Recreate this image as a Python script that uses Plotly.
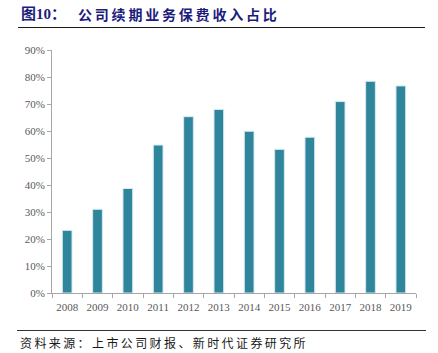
import plotly.graph_objects as go

years = ["2008", "2009", "2010", "2011", "2012", "2013", "2014", "2015", "2016", "2017", "2018", "2019"]
ratio = [0.232, 0.310, 0.387, 0.548, 0.653, 0.680, 0.599, 0.532, 0.577, 0.709, 0.784, 0.767]
y_ticks = [0, 0.1, 0.2, 0.3, 0.4, 0.5, 0.6, 0.7, 0.8, 0.9]
y_tick_labels = ["0%", "10%", "20%", "30%", "40%", "50%", "60%", "70%", "80%", "90%"]

title_prefix = "图10："
title_text = "公司续期业务保费收入占比"
source_text = "资料来源：上市公司财报、新时代证券研究所"

W, H = 438, 353
L, R, T, B = 52, 416, 50, 293  # plot area in pixels


def px(x):
    return (x - L) / (R - L)


def py(y):
    return (B - y) / (B - T)


fig = go.Figure()
fig.add_trace(go.Bar(
    x=years, y=ratio,
    marker=dict(color="#2F859C", line=dict(color="#D6EBF1", width=1)),
    width=0.32,
))

serif = "Liberation Serif, Times New Roman, serif"
cjk = "Noto Sans CJK SC, sans-serif"

fig.update_layout(
    width=W, height=H,
    margin=dict(l=L, r=W - R, t=T, b=H - B),
    paper_bgcolor="white", plot_bgcolor="white",
    showlegend=False,
    bargap=0.69,
    xaxis=dict(
        type="category", showline=True, linecolor="#A6A6A6", linewidth=1,
        ticks="outside", tickson="boundaries", ticklen=4, tickcolor="#A6A6A6",
        tickangle=0, ticklabelstandoff=4,
        tickfont=dict(family=serif, size=11, color="#595959"),
        showgrid=False, zeroline=False,
    ),
    yaxis=dict(
        range=[0, 0.9], tickvals=y_ticks, ticktext=y_tick_labels,
        showline=True, linecolor="#A6A6A6", linewidth=1,
        ticks="outside", ticklen=4, tickcolor="#A6A6A6",
        tickfont=dict(family=serif, size=11, color="#595959"),
        showgrid=False, zeroline=False,
    ),
    shapes=[
        dict(type="line", xref="paper", yref="paper", x0=px(18), x1=px(425), y0=py(27.5), y1=py(27.5),
             line=dict(color="#1a1a1a", width=1.2)),
        dict(type="line", xref="paper", yref="paper", x0=px(17), x1=px(426), y0=py(330.5), y1=py(330.5),
             line=dict(color="#333333", width=1)),
    ],
    annotations=[
        dict(text="<b>" + title_prefix + "</b>", xref="paper", yref="paper", x=px(19), y=py(14),
             xanchor="left", yanchor="middle", showarrow=False,
             font=dict(family=serif + ", " + cjk, size=15, color="#1C1C7C")),
        dict(text="<b>" + "\u2009".join(title_text) + "</b>", xref="paper", yref="paper", x=px(76), y=py(14),
             xanchor="left", yanchor="middle", showarrow=False,
             font=dict(family=cjk, size=14, color="#1C1C7C")),
        dict(text="\u2009".join(source_text), xref="paper", yref="paper", x=px(18), y=py(342),
             xanchor="left", yanchor="middle", showarrow=False,
             font=dict(family=cjk, size=12, color="#1a1a1a")),
    ],
)

fig.write_html("out.html")
